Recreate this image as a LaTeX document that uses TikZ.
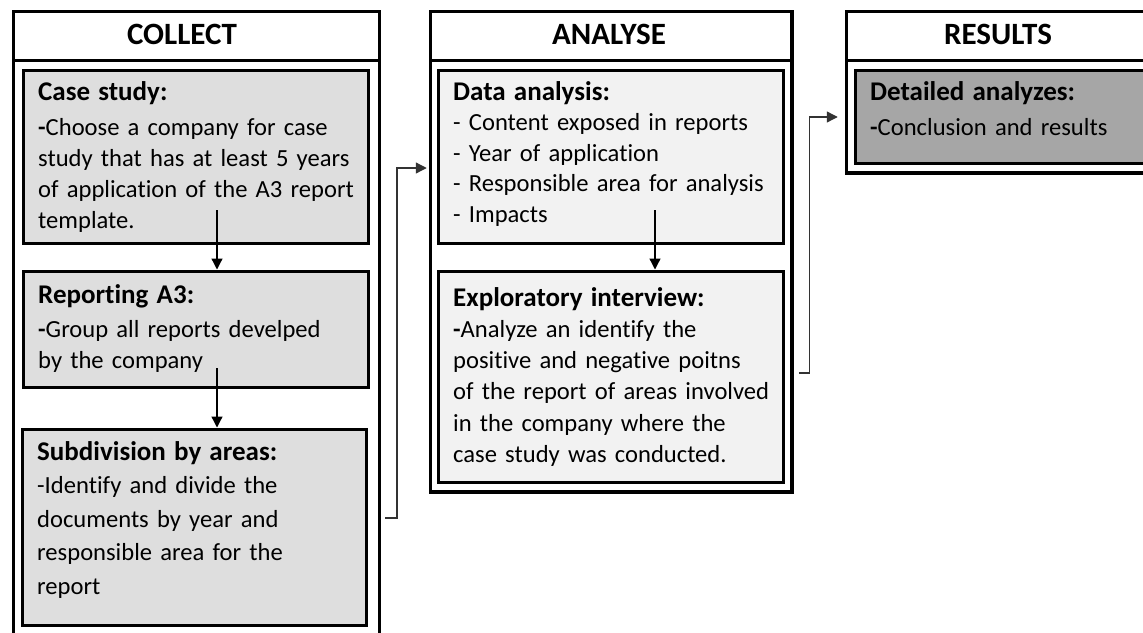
\documentclass[tikz,border=0pt]{standalone}
\usepackage{fontspec}
\setmainfont{Carlito}[Ligatures={NoCommon}]
\usetikzlibrary{arrows.meta,calc}

\definecolor{collectgray}{HTML}{DEDEDE}
\definecolor{analysegray}{HTML}{F2F2F2}
\definecolor{resultgray}{HTML}{A6A6A6}

\newcommand{\boxhead}[1]{{\bfseries\fontsize{27}{31}\selectfont #1}}

\begin{document}
\begin{tikzpicture}[x=1pt,y=-1pt,
  panel/.style={draw, line width=3.5pt, anchor=north west, inner sep=0pt},
  stage/.style={draw, line width=3pt, anchor=north west, inner sep=0pt},
  title/.style={font=\bfseries\fontsize{31}{36}\selectfont, inner sep=0pt},
  txt/.style={anchor=base west, align=left, inner sep=0pt, text width=330pt,
    font=\fontsize{24.6}{31}\selectfont},
  flow/.style={-{Triangle[length=11pt,width=11pt]}, line width=1.3pt},
  link/.style={-{Triangle[length=11pt,width=11pt]}, line width=1.3pt, black!80}]
  \useasboundingbox (0,0) rectangle (1143,632);
  \clip (0,0) rectangle (1143,632);

  % collect column
  \node[panel, minimum width=366, minimum height=640] (collect) at (11.5,9.5) {};
  \node[panel, minimum width=366, minimum height=49] (colhead) at (collect.north west) {};
  \node[title] (coltitle) at (182,34.5) {COLLECT};
  \node[stage, fill=collectgray, minimum width=345, minimum height=173] (case) at (21.5,68.5) {};
  \node[stage, fill=collectgray, minimum width=345, minimum height=116] (report) at (21.5,269.5) {};
  \node[stage, fill=collectgray, minimum width=344, minimum height=196] (subdiv) at (20.5,427.5) {};
  \node[txt] (casetxt) at (38,100) {\boxhead{Case study:}\\[4pt]
    \textbf{-}Choose a company for case\\
    study that has at least 5 years\\
    of application of the A3 report\\
    template.};
  \node[txt] (reporttxt) at (38,303) {\boxhead{Reporting A3:}\\[3pt]
    \textbf{-}Group all reports develped\\
    by the company};
  \node[txt, font=\fontsize{24.6}{33.5}\selectfont] (subdivtxt) at (37,460) {\boxhead{Subdivision by areas:}\\
    -Identify and divide the\\
    documents by year and\\
    responsible area for the\\
    report};

  % analyse column
  \node[panel, minimum width=361.5, minimum height=480.5] (analyse) at (428.75,9.75) {};
  \node[panel, minimum width=361.5, minimum height=49] (anahead) at (analyse.north west) {};
  \node[title] (anatitle) at (609,34.5) {ANALYSE};
  \node[stage, fill=analysegray, minimum width=345, minimum height=173] (data) at (436.5,68.5) {};
  \node[stage, fill=analysegray, minimum width=345, minimum height=211] (interview) at (436.5,269.5) {};
  \node[txt, font=\fontsize{24.6}{30.5}\selectfont] (datatxt) at (453,100) {\boxhead{Data analysis:}\\
    - Content exposed in reports\\
    - Year of application\\
    - Responsible area for analysis\\
    - Impacts};
  \node[txt, font=\fontsize{24.6}{31.3}\selectfont] (interviewtxt) at (453,306) {\boxhead{Exploratory interview:}\\
    \textbf{-}Analyze an identify the\\
    positive and negative poitns\\
    of the report of areas involved\\
    in the company where the\\
    case study was conducted.};

  % results column
  \node[panel, minimum width=308, minimum height=161.5] (results) at (844.75,9.75) {};
  \node[panel, minimum width=308, minimum height=49] (reshead) at (results.north west) {};
  \node[title] (restitle) at (998,34.5) {RESULTS};
  \node[stage, fill=resultgray, minimum width=290, minimum height=93] (detail) at (853.5,68.5) {};
  \node[txt] (detailtxt) at (870,100) {\boxhead{Detailed analyzes:}\\[4pt]
    \textbf{-}Conclusion and results};

  % arrows inside the columns
  \coordinate (casefoot) at (217,210);
  \coordinate (reportfoot) at (217,368);
  \coordinate (datafoot) at (655,210);
  \draw[flow] (casefoot) -- (casefoot |- report.north);
  \draw[flow] (reportfoot) -- (reportfoot |- subdiv.north);
  \draw[flow] (datafoot) -- (datafoot |- interview.north);

  % links between the columns
  \coordinate (colout) at ($(collect.east |- 0,518)+(4,0)$);
  \coordinate (anaout) at ($(analyse.east |- 0,373)+(5,0)$);
  \draw[link] (colout) -- ++(12,0) |- ($(analyse.west |- 0,168)+(-2,0)$);
  \draw[link] (anaout) -- ++(11,0) |- ($(results.west |- 0,117)+(-7,0)$);
\end{tikzpicture}
\end{document}
